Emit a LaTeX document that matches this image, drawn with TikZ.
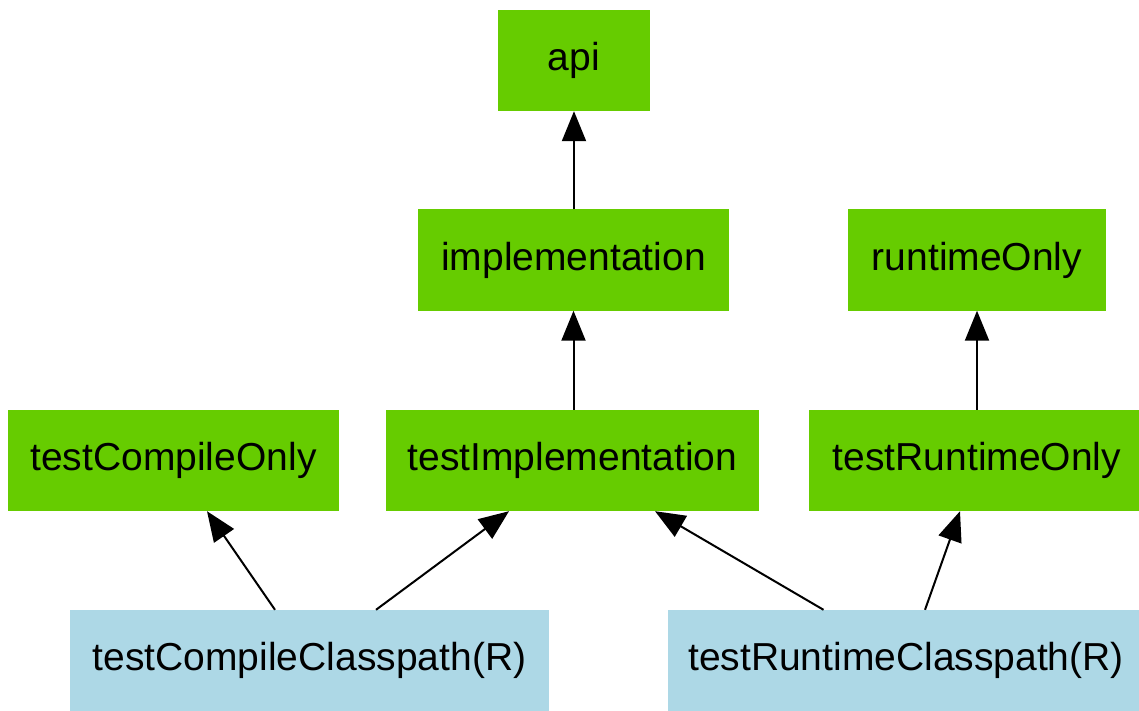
\documentclass[tikz,border=0pt]{standalone}
\usepackage{fontspec}
\setmainfont{Liberation Sans}
\usetikzlibrary{arrows.meta}
\definecolor{nodegreen}{HTML}{66CC00}
\definecolor{nodeblue}{HTML}{ADD8E6}
\begin{document}
\begin{tikzpicture}[x=1pt,y=-1pt,
  box/.style={rectangle, inner sep=0pt, minimum height=101pt, font=\fontsize{39}{46}\selectfont, text=black},
  gbox/.style={box, fill=nodegreen},
  bbox/.style={box, fill=nodeblue},
  arr/.style={-{Triangle[length=30pt,width=24pt]}, line width=2pt, black}]
\clip (0,0) rectangle (1139,711);
\node[gbox, minimum width=152pt] (api) at (574,60.5) {api};
\node[gbox, minimum width=311pt] (impl) at (573.5,260) {implementation};
\node[gbox, minimum width=258pt] (ro) at (977,260) {runtimeOnly};
\node[gbox, minimum width=331pt] (tco) at (173.5,460.5) {testCompileOnly};
\node[gbox, minimum width=373pt] (ti) at (572.5,460.5) {testImplementation};
\node[gbox, minimum width=336pt] (tro) at (977,460.5) {testRuntimeOnly};
\node[bbox, minimum width=479pt] (tcc) at (309.5,660.5) {testCompileClasspath(R)};
\node[bbox, minimum width=476pt] (trc) at (906,660.5) {testRuntimeClasspath(R)};
\draw[arr] (impl.north -| api.south) -- (api.south);
\draw[arr] (ti.north -| impl.north) -- (impl.south);
\draw[arr] (tro.north -| ro.north) -- (ro.south);
\draw[arr] ([xshift=-34.5pt]tcc.north) -- ([xshift=33.5pt]tco.south);
\draw[arr] ([xshift=66.5pt]tcc.north) -- ([xshift=-63.5pt]ti.south);
\draw[arr] ([xshift=-82.5pt]trc.north) -- ([xshift=82.5pt]ti.south);
\draw[arr] ([xshift=19pt]trc.north) -- ([xshift=-17pt]tro.south);
\end{tikzpicture}
\end{document}
